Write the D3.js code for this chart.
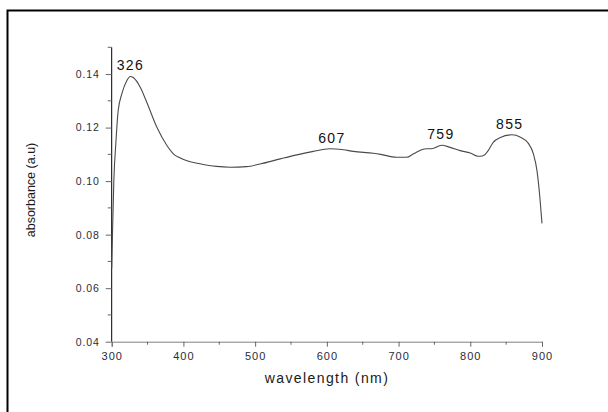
<!DOCTYPE html>
<html>
<head>
<meta charset="utf-8">
<script src="https://cdn.jsdelivr.net/npm/d3@7"></script>
<style>
  body { margin: 0; background: #fff; }
  svg { display: block; font-family: "Liberation Sans", Arial, sans-serif; }
</style>
</head>
<body>
<svg width="608" height="412"></svg>
<script>
// spectrum
const wavelength = [300, 301, 303, 306, 309, 314, 321, 326, 330, 340, 349, 363, 377, 386, 395,
  405, 423, 446, 465, 488, 507, 535, 558, 581, 604, 623, 637, 665, 675, 697, 711, 721, 732,
  739, 746, 760, 772, 786, 800, 811, 818, 825, 832, 842, 858, 870, 881, 888, 893, 897, 900];
const absorbance = [0.0674, 0.0791, 0.1002, 0.1151, 0.1263, 0.1325, 0.1375, 0.1391, 0.1387,
  0.1350, 0.1294, 0.1201, 0.1133, 0.1102, 0.1087, 0.1076, 0.1065, 0.1055, 0.1052, 0.1054,
  0.1064, 0.1083, 0.1098, 0.1111, 0.1121, 0.1117, 0.1111, 0.1104, 0.1100, 0.1089, 0.1089,
  0.1102, 0.1117, 0.1121, 0.1121, 0.1134, 0.1126, 0.1114, 0.1105, 0.1093, 0.1095, 0.1114,
  0.1145, 0.1163, 0.1173, 0.1164, 0.1141, 0.1102, 0.1039, 0.0940, 0.0842];

const peakLabels = ["326", "607", "759", "855"];
const peakX = [326, 607, 759, 855];
const peakY = [0.1391, 0.1121, 0.1134, 0.1173];

const xTicks = [300, 400, 500, 600, 700, 800, 900];
const yTicks = [0.04, 0.06, 0.08, 0.10, 0.12, 0.14];

const svg = d3.select("svg");

// outer frame (only left and top visible in the crop)
svg.append("path")
  .attr("d", "M7.5,412 V10.5 H608")
  .attr("fill", "none")
  .attr("stroke", "#000")
  .attr("stroke-width", 2);

const x = d3.scaleLinear().domain([300, 900]).range([111.7, 542]);
const y = d3.scaleLinear().domain([0.04, 0.15]).range([341.7, 47.3]);

// x axis
const xAxis = svg.append("g")
  .attr("transform", "translate(0,341.7)")
  .call(d3.axisBottom(x).tickValues(xTicks).tickSize(5).tickPadding(3).tickFormat(d3.format("d")));
xAxis.select(".domain").attr("stroke", "#808080");
xAxis.selectAll(".tick line").attr("stroke", "#666");
xAxis.selectAll(".tick text")
  .attr("font-size", 11).attr("fill", "#2b2b3a").attr("letter-spacing", 1).attr("dy", "0.95em");

svg.append("g")
  .attr("transform", "translate(0,341.7)")
  .selectAll("line")
  .data(d3.range(350, 900, 100))
  .join("line")
  .attr("x1", d => x(d)).attr("x2", d => x(d))
  .attr("y1", 0).attr("y2", 3)
  .attr("stroke", "#666");

// y axis
const yAxis = svg.append("g")
  .attr("transform", "translate(111.7,0)")
  .call(d3.axisLeft(y).tickValues(yTicks).tickSize(6).tickPadding(6).tickFormat(d3.format(".2f")));
yAxis.select(".domain").attr("stroke", "#000").attr("d", `M0,${y(0.04)}V${y(0.15)}`);
yAxis.selectAll(".tick line").attr("stroke", "#666");
yAxis.selectAll(".tick text")
  .attr("font-size", 10.5).attr("fill", "#2b2b3a").attr("letter-spacing", 0.9);

svg.append("g")
  .attr("transform", "translate(111.7,0)")
  .selectAll("line")
  .data(d3.range(0.05, 0.151, 0.02))
  .join("line")
  .attr("x1", -4).attr("x2", 0)
  .attr("y1", d => y(d)).attr("y2", d => y(d))
  .attr("stroke", "#666");

// spectrum line
const line = d3.line()
  .x((d, i) => x(wavelength[i]))
  .y(d => y(d))
  .curve(d3.curveMonotoneX);

svg.append("path")
  .datum(absorbance)
  .attr("d", line)
  .attr("fill", "none")
  .attr("stroke", "#4a4a4a")
  .attr("stroke-width", 1.1);

// peak labels
svg.append("g")
  .selectAll("text")
  .data(peakLabels)
  .join("text")
  .attr("x", (d, i) => x(peakX[i]))
  .attr("y", (d, i) => y(peakY[i]) - 6)
  .attr("text-anchor", "middle")
  .attr("font-size", 14)
  .attr("letter-spacing", 1.3)
  .attr("fill", "#111")
  .text(d => d);

// axis titles
svg.append("text")
  .attr("x", 327).attr("y", 383)
  .attr("text-anchor", "middle")
  .attr("font-size", 14)
  .attr("letter-spacing", 1.4)
  .attr("fill", "#1a1a1a")
  .text("wavelength (nm)");

svg.append("text")
  .attr("transform", "translate(35,190) rotate(-90)")
  .attr("text-anchor", "middle")
  .attr("font-size", 12.5)
  .attr("fill", "#1a1a1a")
  .text("absorbance (a.u)");
</script>
</body>
</html>
